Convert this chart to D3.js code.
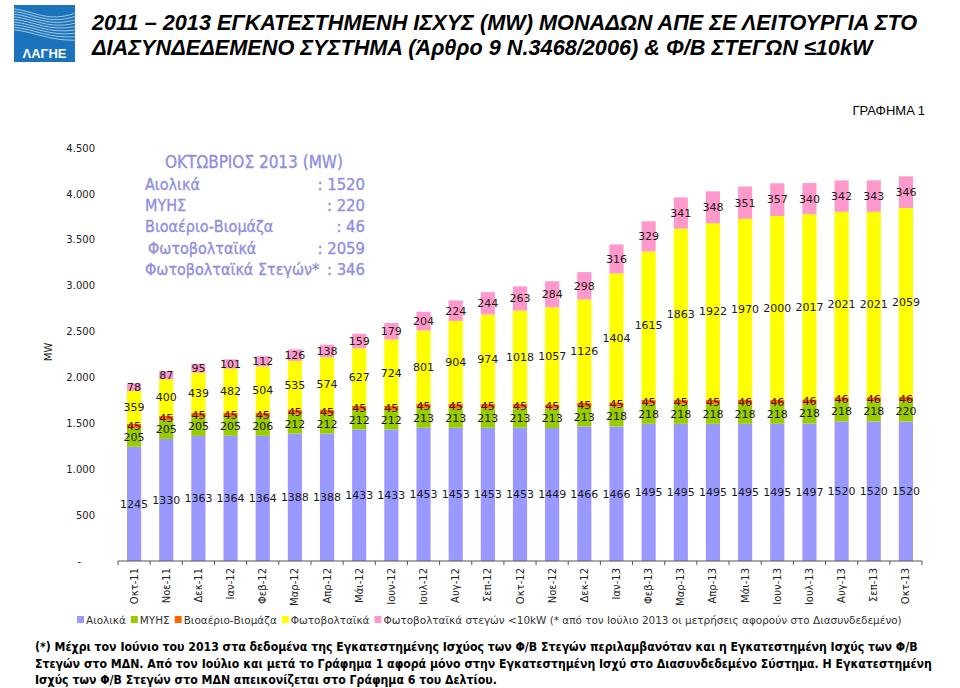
<!DOCTYPE html>
<html>
<head>
<meta charset="utf-8">
<script src="https://cdn.jsdelivr.net/npm/d3@7"></script>
<style>
  body { margin: 0; background: #fff; }
  svg { display: block; }
</style>
</head>
<body>
<div id="chart"></div>
<script>
// months on the x axis
var months = ["Οκτ-11","Νοε-11","Δεκ-11","Ιαν-12","Φεβ-12","Μαρ-12","Απρ-12","Μάι-12","Ιουν-12","Ιουλ-12","Αυγ-12","Σεπ-12","Οκτ-12","Νοε-12","Δεκ-12","Ιαν-13","Φεβ-13","Μαρ-13","Απρ-13","Μάι-13","Ιουν-13","Ιουλ-13","Αυγ-13","Σεπ-13","Οκτ-13"];

// installed capacity (MW) per technology
var wind  = [1245,1330,1363,1364,1364,1388,1388,1433,1433,1453,1453,1453,1453,1449,1466,1466,1495,1495,1495,1495,1495,1497,1520,1520,1520];
var hydro = [205,205,205,205,206,212,212,212,212,213,213,213,213,213,213,218,218,218,218,218,218,218,218,218,220];
var bio   = [45,45,45,45,45,45,45,45,45,45,45,45,45,45,45,45,45,45,45,46,46,46,46,46,46];
var pv    = [359,400,439,482,504,535,574,627,724,801,904,974,1018,1057,1126,1404,1615,1863,1922,1970,2000,2017,2021,2021,2059];
var roof  = [78,87,95,101,112,126,138,159,179,204,224,244,263,284,298,316,329,341,348,351,357,340,342,343,346];

var seriesNames = ["Αιολικά","ΜΥΗΣ","Βιοαέριο-Βιομάζα","Φωτοβολταϊκά","Φωτοβολταϊκά στεγών <10kW (* από τον Ιούλιο 2013 οι μετρήσεις αφορούν στο Διασυνδεδεμένο)"];
var seriesColors = ["#9999ff","#99cc00","#ff6600","#ffff00","#ff99cc"];
var yTicks = [0,500,1000,1500,2000,2500,3000,3500,4000,4500];

var insetTitle = "ΟΚΤΩΒΡΙΟΣ 2013 (MW)";
var insetRows = [["Αιολικά","1520"],["ΜΥΗΣ","220"],["Βιοαέριο-Βιομάζα","46"],["Φωτοβολταϊκά","2059"],["Φωτοβολταϊκά Στεγών*","346"]];

var titleLines = ["2011 – 2013  ΕΓΚΑΤΕΣΤΗΜΕΝΗ ΙΣΧΥΣ (MW)  ΜΟΝΑΔΩΝ ΑΠΕ  ΣΕ ΛΕΙΤΟΥΡΓΙΑ ΣΤΟ",
                  "ΔΙΑΣΥΝΔΕΔΕΜΕΝΟ ΣΥΣΤΗΜΑ (Άρθρο 9 Ν.3468/2006) & Φ/Β ΣΤΕΓΩΝ ≤10kW"];
var noteLines = ["(*) Μέχρι τον Ιούνιο του 2013 στα δεδομένα της Εγκατεστημένης Ισχύος των Φ/Β Στεγών περιλαμβανόταν και η Εγκατεστημένη Ισχύς των Φ/Β",
                 "Στεγών στο ΜΔΝ. Από τον Ιούλιο και μετά το Γράφημα 1 αφορά μόνο στην Εγκατεστημένη Ισχύ στο Διασυνδεδεμένο Σύστημα. Η Εγκατεστημένη",
                 "Ισχύς των Φ/Β Στεγών στο ΜΔΝ απεικονίζεται στο Γράφημα 6 του Δελτίου."];

var W = 960, H = 688;
var svg = d3.select("#chart").append("svg").attr("width", W).attr("height", H);

// fit a block of lines so its first line spans targetWidth
function fitLines(g, targetWidth) {
  var first = g.select("text").node();
  var len = first.getComputedTextLength();
  var fs = parseFloat(g.attr("font-size"));
  g.attr("font-size", fs * targetWidth / len);
}

// ---- logo
var logo = svg.append("g").attr("transform", "translate(14,5)");
logo.append("rect").attr("width", 61).attr("height", 57).attr("fill", "#1b74bb");
for (var k = 0; k < 9; k++) {
  logo.append("path")
    .attr("d", "M0," + (4 + k * 2.6) + " C20," + (6 + k * 2.6) + " 35," + (18 + k * 2.2) + " 61," + (8 + k * 3.4))
    .attr("fill", "none").attr("stroke", "#ffffff").attr("stroke-opacity", 0.75).attr("stroke-width", 0.8);
}
logo.append("text").attr("x", 30.5).attr("y", 53).attr("text-anchor", "middle")
  .attr("font-family", "Liberation Sans, Arial").attr("font-weight", "bold").attr("font-size", 13)
  .attr("fill", "#fff").text("ΛΑΓΗΕ");

// ---- title
var tg = svg.append("g").attr("font-family", "Liberation Sans, Arial")
  .attr("font-weight", "bold").attr("font-style", "italic").attr("font-size", 20).attr("fill", "#000");
tg.selectAll("text").data(titleLines).enter().append("text")
  .attr("x", 92).attr("y", function(d, i) { return 30 + i * 25; }).text(function(d) { return d; });
fitLines(tg, 826);

svg.append("text").attr("x", 925).attr("y", 115).attr("text-anchor", "end")
  .attr("font-family", "Liberation Sans, Arial").attr("font-size", 13).attr("fill", "#000").text("ΓΡΑΦΗΜΑ 1");

// ---- scales
var x = d3.scaleBand().domain(months).range([118, 922]).paddingInner(0.56).paddingOuter(0.28);
var y = d3.scaleLinear().domain([0, 4500]).range([561, 148]);
var fmt = d3.formatLocale({decimal: ",", thousands: ".", grouping: [3], currency: ["", ""]}).format(",");

// y axis labels (no line)
var ya = svg.append("g").attr("transform", "translate(95,0)")
  .call(d3.axisLeft(y).tickValues(yTicks).tickSize(0).tickPadding(0)
    .tickFormat(function(d) { return d === 0 ? "-" : fmt(d); }));
ya.select(".domain").remove();
ya.selectAll("text").attr("font-family", "DejaVu Sans, Verdana").attr("font-size", 10).attr("fill", "#222");
ya.selectAll(".tick").filter(function(d) { return d === 0; }).select("text").attr("dx", -14);

svg.append("text").attr("transform", "translate(52,352) rotate(-90)").attr("text-anchor", "middle")
  .attr("font-family", "DejaVu Sans, Verdana").attr("font-size", 10).attr("fill", "#222").text("MW");

// ---- stacked bars
var rows = months.map(function(m, i) {
  return {month: m, s0: wind[i], s1: hydro[i], s2: bio[i], s3: pv[i], s4: roof[i]};
});
var keys = ["s0","s1","s2","s3","s4"];
var stacked = d3.stack().keys(keys)(rows);

var layers = svg.append("g").selectAll("g").data(stacked).enter().append("g")
  .attr("fill", function(d, i) { return seriesColors[i]; });
layers.selectAll("rect").data(function(d) { return d; }).enter().append("rect")
  .attr("x", function(d) { return x(d.data.month); })
  .attr("y", function(d) { return y(d[1]); })
  .attr("width", x.bandwidth())
  .attr("height", function(d) { return y(d[0]) - y(d[1]); });

// value labels, centred in each segment
var labels = svg.append("g").attr("font-family", "DejaVu Sans, Verdana").attr("font-size", 11)
  .attr("text-anchor", "middle");
stacked.forEach(function(layer, li) {
  labels.selectAll(null).data(layer).enter().append("text")
    .attr("x", function(d) { return x(d.data.month) + x.bandwidth() / 2; })
    .attr("y", function(d) { return y((d[0] + d[1]) / 2); })
    .attr("dy", "0.35em")
    .attr("fill", li === 2 ? "#4a1200" : "#1a1a1a")
    .text(function(d) { return d.data[keys[li]]; });
});

// ---- x axis
var xg = svg.append("g");
xg.append("line").attr("x1", 118).attr("x2", 922).attr("y1", 561).attr("y2", 561)
  .attr("stroke", "#555").attr("stroke-width", 1);
var bounds = months.map(function(m) { return x(m) + x.bandwidth() / 2 - x.step() / 2; });
bounds.push(922);
xg.selectAll(".tk").data(bounds).enter().append("line")
  .attr("x1", function(d) { return d; }).attr("x2", function(d) { return d; })
  .attr("y1", 561).attr("y2", 565).attr("stroke", "#555");
xg.selectAll(".ml").data(months).enter().append("text")
  .attr("transform", function(d) { return "translate(" + (x(d) + x.bandwidth() / 2 + 3.5) + ",568) rotate(-90)"; })
  .attr("text-anchor", "end")
  .attr("font-family", "DejaVu Sans, Verdana").attr("font-size", 10).attr("fill", "#222")
  .text(function(d) { return d; });

// ---- inset summary
var ig = svg.append("g").attr("font-family", "DejaVu Sans Condensed, DejaVu Sans")
  .attr("fill", "#8f8fe0").attr("stroke", "#8f8fe0").attr("stroke-width", 0.35);
ig.append("text").attr("x", 254).attr("y", 168).attr("text-anchor", "middle").attr("font-size", 17).text(insetTitle);
ig.selectAll(".r").data(insetRows).enter().append("text")
  .attr("font-size", 16)
  .attr("x", function(d, i) { return i === 3 ? 148 : 145; })
  .attr("y", function(d, i) { return 190 + i * 21.2; })
  .text(function(d) { return d[0]; });
ig.selectAll(".v").data(insetRows).enter().append("text")
  .attr("font-size", 16.5)
  .attr("x", 365).attr("text-anchor", "end")
  .attr("y", function(d, i) { return 190 + i * 21.2; })
  .text(function(d, i) { return ":" + (i === 1 || i === 2 ? "   " : " ") + d[1]; });

// ---- legend
var lg = svg.append("g").attr("font-family", "DejaVu Sans, Verdana").attr("font-size", 10).attr("fill", "#333");
var items = [], lx = 0;
seriesNames.forEach(function(n, i) {
  var it = lg.append("g");
  it.append("rect").attr("y", -7.5).attr("width", 7).attr("height", 7).attr("fill", seriesColors[i]);
  var t = it.append("text").attr("x", 9).text(n);
  items.push({g: it, w: t.node().getComputedTextLength()});
});
var total = d3.sum(items, function(d) { return d.w + 14; }) - 5;
var sc = 828 / total;
lg.attr("font-size", 10 * sc);
lx = 77;
items.forEach(function(it) {
  it.g.attr("transform", "translate(" + lx + ",623.5)");
  it.g.select("text").attr("x", 9);
  lx += 9 + it.w * sc + 5;
});

// ---- footnote
var ng = svg.append("g").attr("font-family", "DejaVu Sans Condensed, DejaVu Sans").attr("font-weight", "bold")
  .attr("font-size", 12).attr("fill", "#000");
ng.selectAll("text").data(noteLines).enter().append("text")
  .attr("x", 35).attr("y", function(d, i) { return 651 + i * 16.5; }).text(function(d) { return d; });
fitLines(ng, 883);
</script>
</body>
</html>
